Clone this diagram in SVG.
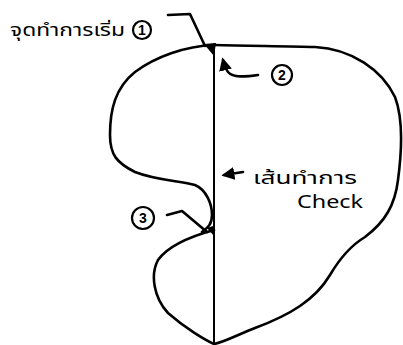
<svg xmlns="http://www.w3.org/2000/svg" width="403" height="345" viewBox="0 0 403 345">
<style>
.ln{fill:none;stroke:#000;stroke-width:2.6;stroke-linecap:round;stroke-linejoin:round}
.t{font-family:"Noto Sans","Noto Sans Thai","Liberation Sans",sans-serif;fill:#000}
.c{fill:none;stroke:#000;stroke-width:2.2}
.n{font-family:"Liberation Sans",sans-serif;font-size:14px;font-weight:bold;text-anchor:middle;fill:#000}
</style>
<defs>
<marker id="ah" viewBox="0 0 10 10" refX="8" refY="5" markerWidth="5" markerHeight="5" orient="auto-start-reverse">
<path d="M0,0 L10,5 L0,10 z" fill="#000"/>
</marker>
</defs>
<rect width="403" height="345" fill="#fff"/>
<g id="shape">
<path class="ln" d="M214,45 C250,46 290,46 315,47 C352,49 382,70 395,97 C403,118 402,150 398,180 C395,205 385,222 365,237 C350,246 340,258 330,275 C315,300 290,315 255,328 C235,336 222,343 214,344 C205,340 185,328 168,313 C154,298 150,275 158,260 C168,246 192,236 214,230"/>
<path class="ln" d="M214,45 C185,46 155,57 135,72 C115,88 110,110 110,135 C110,155 117,163 135,172 C155,180 180,181 195,185 C207,190 212,205 212,215 C212,225 207,228 202,232"/>
<line class="ln" x1="214" y1="44" x2="214" y2="344" style="stroke-width:2"/>
<path d="M204,44 L216,43 L214,56 Z" fill="#000"/>
<path d="M207,228 L213,226 L214,236 Z" fill="#000"/>
</g>
<g id="label1">
<text class="t" x="10" y="36" font-size="17" textLength="115" lengthAdjust="spacingAndGlyphs">จุดทำการเริ่ม</text>
<circle class="c" cx="142" cy="30" r="9"/>
<text class="n" x="142" y="35">1</text>
<polyline class="ln" points="168,15 190,14 205,46"/>
</g>
<g id="label2">
<circle class="c" cx="282" cy="75" r="10"/>
<text class="n" x="282" y="80">2</text>
<path class="ln" d="M258,75 C245,77 233,78 228,72 C225,68 224,64 223,60" marker-end="url(#ah)"/>
</g>
<g id="label3">
<circle class="c" cx="143" cy="218" r="11"/>
<text class="n" x="143" y="223">3</text>
<polyline class="ln" points="167,215 182,211 207,232"/>
</g>
<g id="label4">
<path class="ln" d="M243,172 L224,175" marker-end="url(#ah)"/>
<text class="t" x="253" y="184" font-size="18" textLength="104" lengthAdjust="spacingAndGlyphs">เส้นทำการ</text>
<text class="t" x="297" y="208" font-size="18" textLength="66" lengthAdjust="spacingAndGlyphs">Check</text>
</g>
</svg>
